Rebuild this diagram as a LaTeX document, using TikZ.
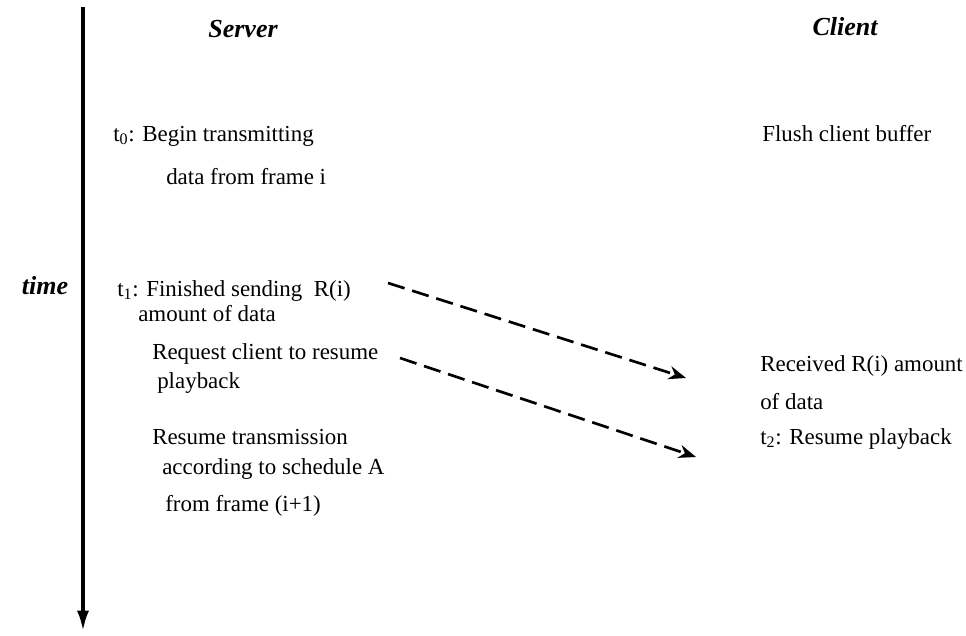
\documentclass[tikz,border=0pt]{standalone}
\usepackage{fontspec}
\setmainfont{Liberation Serif}
\usetikzlibrary{arrows.meta}

\begin{document}
\begin{tikzpicture}[x=0.75pt,y=-0.75pt,
      every node/.style={inner sep=0pt,anchor=base west,font=\fontsize{17.2}{20}\selectfont},
      head/.style={anchor=base,font=\fontsize{19.5}{22}\selectfont\bfseries\itshape},
      msg/.style={line width=2pt,dash pattern=on 13pt off 6pt,-{Stealth[length=13pt,width=10pt]}},
      >={Latex[length=16pt,width=9pt]}]
      \useasboundingbox(0,0)rectangle(966,635);
      % time axis
      \draw[line width=3pt,->](83,7)--(83,632);
      \node[head](time)at(45,294){time};
      \node[head](server)at(243,38){Server};
      \node[head](client)at(845,36){Client};
      % server side
      \node(t0a)at(113,141){t\textsubscript{0}: Begin transmitting};
      \node(t0b)at(166,184){data from frame i};
      \node(t1a)at(117,296){t\textsubscript{1}: Finished sending\ \ R(i)};
      \node(t1b)at(138,321){amount of data};
      \node(reqa)at(152,359){Request client to resume};
      \node(reqb)at(157,388){playback};
      \node(resa)at(152,444){Resume transmission};
      \node(resb)at(162,474){according to schedule A};
      \node(resc)at(165,511){from frame (i+1)};
      % client side
      \node(flush)at(762,141){Flush client buffer};
      \node(rcva)at(760,371){Received R(i) amount};
      \node(rcvb)at(760,409){of data};
      \node(t2)at(760,444){t\textsubscript{2}: Resume playback};
      % messages
      \coordinate(s1)at(388,283);\coordinate(e1)at(686,378);
      \coordinate(s2)at(400,358);\coordinate(e2)at(696,457);
      \draw[msg](s1)--(e1);
      \draw[msg](s2)--(e2);
    \end{tikzpicture}
\end{document}
